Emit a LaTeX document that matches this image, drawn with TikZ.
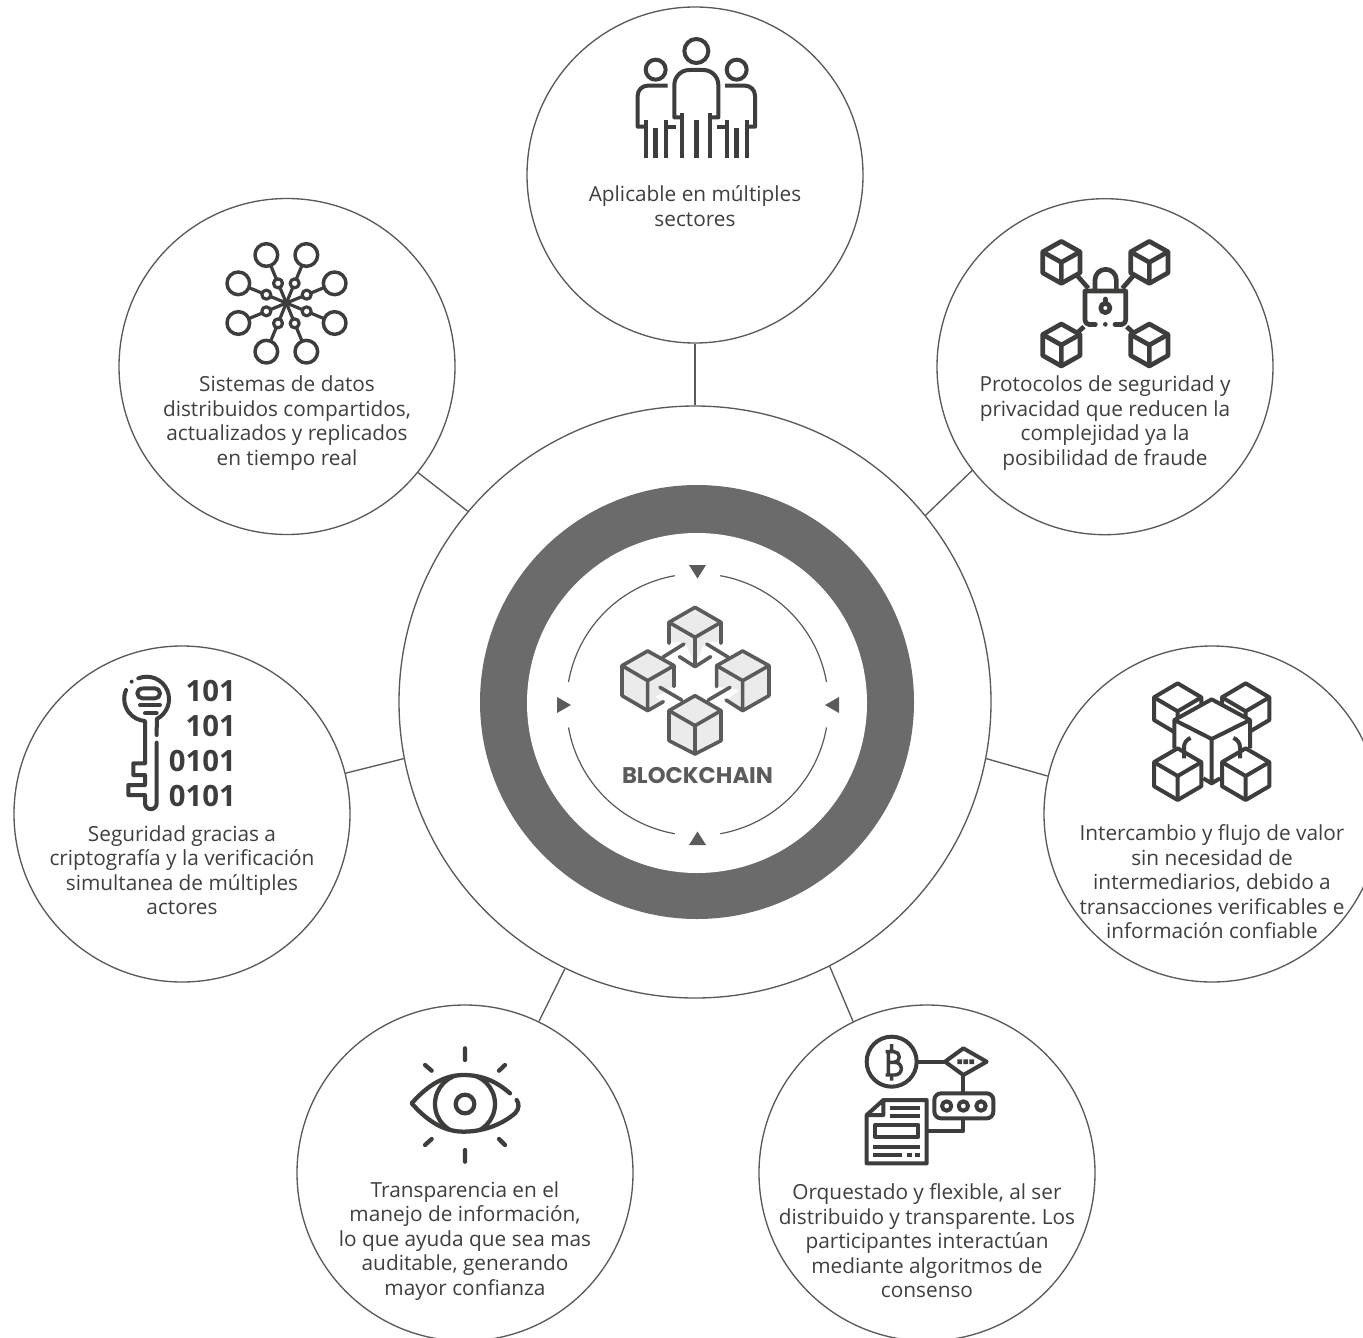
\documentclass[tikz,border=0pt]{standalone}
\usepackage{fontspec}
\setmainfont{Open Sans}
\newfontfamily\digitfont{Open Sans}
\newfontfamily\logofont{Poppins}
\frenchspacing
\definecolor{ringgray}{HTML}{6B6B6B}
\definecolor{linegray}{HTML}{5A5A5A}
\definecolor{textgray}{HTML}{3F3F3F}
\definecolor{icongray}{HTML}{3D3D3B}
\definecolor{logogray}{HTML}{5B5B5B}
\definecolor{facegray}{HTML}{EBEBEB}
\tikzset{
  outline/.style={draw=linegray,line width=1pt,fill=white,circle,inner sep=0pt},
  petal/.style={outline,minimum size=252pt},
  link/.style={draw=linegray,line width=1pt},
  caption/.style={align=center,text=textgray,font=\fontsize{15.6}{18.35}\selectfont\frenchspacing,inner sep=0pt},
  ico/.style={draw=icongray,line width=3pt,line join=round,fill=none},
  logoline/.style={draw=logogray,line width=2.7pt,line join=round,line cap=round},
  zoomed/.style={x=.25pt,y=-.25pt},
  tri/.style={fill=logogray,draw=none},
  bits/.style={anchor=east,inner sep=0pt,text=icongray,font=\digitfont\bfseries\fontsize{22}{23}\selectfont}
}
\newcommand{\hexcube}[5]{% cx cy halfwidth top-offset side-offset
  \fill[white] (#1,#2-#4)--(#1+#3,#2-#4/2)--(#1+#3,#2+#5-#4/2)--(#1,#2+#5)--(#1-#3,#2+#5-#4/2)--(#1-#3,#2-#4/2)--cycle;
  \draw[ico] (#1,#2-#4)--(#1+#3,#2-#4/2)--(#1+#3,#2+#5-#4/2)--(#1,#2+#5)--(#1-#3,#2+#5-#4/2)--(#1-#3,#2-#4/2)--cycle;
  \draw[ico] (#1-#3,#2-#4/2)--(#1,#2)--(#1+#3,#2-#4/2) (#1,#2)--(#1,#2+#5);}
\begin{document}
\begin{tikzpicture}[x=.75pt,y=-.75pt]
\useasboundingbox (0,0) rectangle (1363,1338);
\clip (0,0) rectangle (1363,1338);
\fill[white] (0,0) rectangle (1363,1338);
% circles
\node[outline,minimum size=444pt] (big) at (695,702) {};
\node[circle,fill=ringgray,inner sep=0pt,minimum size=325.5pt] (ring) at (697,702) {};
\node[circle,fill=white,inner sep=0pt,minimum size=255pt] (hole) at (697,703) {};
\node[petal] (top) at (695,175) {};
\node[petal] (tl) at (287,366.5) {};
\node[petal] (tr) at (1105,366.7) {};
\node[petal] (lf) at (182,814) {};
\node[petal] (rt) at (1212,814) {};
\node[petal] (bl) at (465,1173) {};
\node[petal] (br) at (927,1173) {};
% connectors
\draw[link] (top.south) -- (big.north);
\draw[link] (tl.-39.5) -- (big.140.6);
\draw[link] (tr.218.2) -- (big.39.7);
\draw[link] (lf.14.1) -- (big.191.3);
\draw[link] (rt.167) -- (big.-11.6);
\draw[link] (bl.64.3) -- (big.244);
\draw[link] (br.116.1) -- (big.-63.6);
% inner thin circle
\foreach \a in {0,90,180,270}
  \draw[draw=linegray,line width=.9pt] ({697.5+131*cos(\a+10)},{704.7+131*sin(\a+10)}) arc[start angle=\a+10,end angle=\a+80,radius=131];
\fill[tri] (689,565) -- (706,565) -- (697.5,578.5) -- cycle;
\fill[tri] (689,845) -- (706,845) -- (697.5,831.5) -- cycle;
\fill[tri] (557,697) -- (557,713) -- (571,705) -- cycle;
\fill[tri] (839,697) -- (839,713) -- (825,705) -- cycle;
% captions
\node[caption] (t1) at (695,206) {Aplicable en múltiples\\sectores};
\node[caption] (t2) at (287,423) {Sistemas de datos\\distribuidos compartidos,\\actualizados y replicados\\en tiempo real};
\node[caption] (t3) at (1105,423) {Protocolos de seguridad y\\privacidad que reducen la\\complejidad ya la\\posibilidad de fraude};
\node[caption] (t4) at (182,870) {Seguridad gracias a\\criptografía y la verificación\\simultanea de múltiples\\actores};
\node[caption] (t5) at (1212,882) {Intercambio y flujo de valor\\sin necesidad de\\intermediarios, debido a\\transacciones verificables e\\información confiable};
\node[caption] (t6) at (465,1241) {Transparencia en el\\manejo de información,\\lo que ayuda que sea mas\\auditable, generando\\mayor confianza};
\node[caption] (t7) at (927,1241) {Orquestado y flexible, al ser\\distribuido y transparente. Los\\participantes interactúan\\mediante algoritmos de\\consenso};
\node[text=logogray,font=\logofont\bfseries\fontsize{17}{18}\selectfont,inner sep=0pt] (logo) at (697.5,776) {BLOCKCHAIN};
% central logo
\begin{scope}[shift={(540,550)},zoomed]
 \fill[facegray] (465,172)--(543,217)--(543,275)--(495,275)--(465,345)--(435,277)--(387,275)--(387,217)--cycle;
 \fill[facegray] (323,303)--(402,347)--(402,410)--(345,440)--(370,455)--(323,482)--(246,437)--(246,347)--cycle;
 \fill[facegray] (608,303)--(687,347)--(687,437)--(608,482)--(558,450)--(600,420)--(530,410)--(530,347)--cycle;
 \fill[facegray] (465,437)--(543,482)--(543,572)--(465,612)--(387,572)--(387,482)--cycle;
 \draw[logoline] (387,280)--(387,217)--(465,172)--(543,217)--(543,280) (387,217)--(465,262)--(543,217) (465,262)--(465,350) (418,320)--(465,350)--(512,320);
 \draw[logoline] (402,410)--(402,347)--(323,303)--(246,347)--(246,437)--(323,482)--(370,455) (246,347)--(323,392)--(402,347) (323,392)--(323,482);
 \draw[logoline] (530,410)--(530,347)--(608,303)--(687,347)--(687,437)--(608,482)--(558,450) (530,347)--(608,392)--(687,347) (608,392)--(608,482);
 \draw[logoline] (465,437)--(543,482)--(543,572)--(465,612)--(387,572)--(387,482)--cycle (387,482)--(465,527)--(543,482) (465,527)--(465,612);
 \draw[logoline] (368,322)--(432,282) (500,282)--(565,322) (360,412)--(425,450) (505,450)--(570,412);
\end{scope}
% people
\begin{scope}[shift={(590,20)},zoomed]
 \draw[ico] (319,93) circle[radius=36] (197,149) circle[radius=30] (440,149) circle[radius=30];
 \draw[ico] (276,415)--(276,278) (361,415)--(361,278);
 \draw[ico] (276,292)--(253,292)--(253,195) arc[start angle=180,end angle=270,radius=45]--(340,150) arc[start angle=270,end angle=360,radius=45]--(385,292)--(361,292);
 \draw[ico] (233,197)--(173,197) arc[start angle=270,end angle=180,radius=30]--(143,320)--(167,320);
 \draw[ico] (405,197)--(465,197) arc[start angle=270,end angle=360,radius=30]--(495,320)--(471,320);
 \draw[ico] (167,415)--(167,300) (228,415)--(228,300) (228,320)--(258,320) (410,415)--(410,300) (410,320)--(380,320) (471,415)--(471,300);
 \draw[ico,line width=3.7pt] (197,325)--(197,415) (319,300)--(319,415) (440,325)--(440,415);
\end{scope}
% network
\begin{scope}[shift={(200,230)},zoomed]
 \foreach \sx/\sy/\lx/\ly in {234/160/199/75,284/160/319/75,199/194/115/160,320/194/404/160,199/244/115/279,320/244/404/279,234/280/199/365,284/280/319/365}{
  \draw[ico,line width=2.4pt] (259,219)--(\lx,\ly);
  \draw[ico,line width=2.4pt,fill=white] (\sx,\sy) circle[radius=13.5];
  \draw[ico,line width=2.6pt,fill=white] (\lx,\ly) circle[radius=34];
 }
\end{scope}
% lock and cubes
\begin{scope}[shift={(1020,230)},zoomed,ico/.append style={line width=3.5pt}]
 \hexcube{124}{97}{56}{63}{63}
 \hexcube{388}{97}{56}{63}{63}
 \hexcube{124}{345}{56}{63}{63}
 \hexcube{388}{345}{56}{63}{63}
 \draw[ico] (170,135)--(205,175) (342,135)--(307,175) (170,310)--(192,290) (342,310)--(320,290);
 \draw[ico,line cap=round] (207,283) arc[start angle=90,end angle=180,radius=12]--(195,183)--(317,183)--(317,271) arc[start angle=0,end angle=90,radius=12];
 \draw[ico,line cap=round] (207,283)--(226,283) (285,283)--(305,283);
 \fill[icongray] (256,283) circle[radius=7];
 \draw[ico] (225,183)--(225,150) arc[start angle=180,end angle=360,radius=32]--(289,183);
 \draw[ico] (256,234) circle[radius=14];
 \draw[ico,line cap=round] (256,207)--(256,220);
\end{scope}
% key
\begin{scope}[shift={(110,660)},zoomed]
 \draw[ico,line cap=round] (85,55) arc[start angle=-112,end angle=63,radius=67]--(140,225);
 \draw[ico,line cap=round] (48,90) arc[start angle=203,end angle=94,radius=67]--(105,310)--(70,310)--(70,345)--(105,345)--(105,375)--(55,375)--(55,405)--(105,405)--(105,430) arc[start angle=180,end angle=0,radius=17.5]--(140,248);
 \fill[icongray] (65,65) circle[radius=6];
 \draw[ico] (97,85)--(135,85) arc[start angle=-90,end angle=90,radius=15]--(97,115) arc[start angle=90,end angle=270,radius=15];
 \draw[ico,line cap=round] (90,135)--(150,135) (105,160)--(140,160);
\end{scope}
\node[bits] (d1) at (236,691) {101};
\node[bits] (d2) at (236,726) {101};
\node[bits] (d3) at (236,761) {0101};
\node[bits] (d4) at (236,796) {0101};
% cubes cluster
\begin{scope}[shift={(1135,670)},zoomed]
 \hexcube{128}{124}{71}{84}{68}
 \hexcube{332}{124}{71}{84}{68}
 \fill[white] (230,88)--(345,150)--(345,235)--(230,340)--(118,235)--(118,150)--cycle;
 \draw[ico] (118,235)--(118,150)--(230,88)--(345,150)--(345,235) (118,150)--(230,207)--(345,150) (230,207)--(230,340) (205,325)--(230,340)--(255,325);
 \hexcube{128}{318}{71}{83}{72}
 \hexcube{332}{318}{71}{83}{72}
 \draw[ico] (147,265)--(147,232) arc[start angle=180,end angle=250,radius=30];
 \draw[ico] (315,265)--(315,232) arc[start angle=0,end angle=-70,radius=30];
\end{scope}
% eye
\begin{scope}[shift={(400,1035)},zoomed,ico/.append style={line width=3.2pt}]
 \draw[ico,line cap=round] (330,175) .. controls (285,135) and (240,120) .. (190,120) .. controls (125,120) and (75,160) .. (35,205) .. controls (75,250) and (125,290) .. (190,290) .. controls (255,290) and (310,265) .. (345,235) .. controls (358,222) and (358,205) .. (350,195);
 \draw[ico] (195,207) circle[radius=28];
 \begin{scope}
  \clip (35,125) rectangle (355,287);
  \draw[ico] (195,207) circle[radius=90];
 \end{scope}
 \draw[ico,line cap=round] (195,40)--(195,75) (195,345)--(195,380) (75,90)--(95,107) (315,90)--(297,107) (75,330)--(95,312) (315,330)--(297,312);
\end{scope}
% bitcoin document
\begin{scope}[shift={(855,1030)},zoomed]
 \draw[ico] (110,95) circle[radius=75];
 \draw[ico] (185,95)--(270,95) (325,135)--(325,190);
 \draw[ico] (325,55)--(395,95)--(325,135)--(270,95)--cycle;
 \draw[ico,line width=2.6pt] (100,65)--(100,135) (92,65)--(117,65) arc[start angle=-90,end angle=90,radius=16]--(100,97) (100,97)--(120,97) arc[start angle=-90,end angle=90,radius=19]--(92,135) (110,42)--(110,65) (110,135)--(110,152);
 \fill[icongray] (307,88) rectangle (321,102) (325,88) rectangle (339,102) (343,88) rectangle (357,102);
 \draw[ico,rounded corners=5pt] (238,190) rectangle (415,265);
 \draw[ico] (275,228) circle[radius=14] (325,228) circle[radius=14] (378,228) circle[radius=14];
 \draw[ico] (325,265)--(325,303)--(215,303);
 \draw[ico] (35,400)--(35,255)--(85,210)--(215,210)--(215,400)--cycle (35,255)--(85,255)--(85,210);
 \draw[ico] (105,235)--(195,235) (105,258)--(195,258) (60,285) rectangle (190,320) (55,350)--(195,350) (55,375)--(140,375) (155,375)--(170,375) (180,375)--(195,375);
\end{scope}
\end{tikzpicture}
\end{document}
